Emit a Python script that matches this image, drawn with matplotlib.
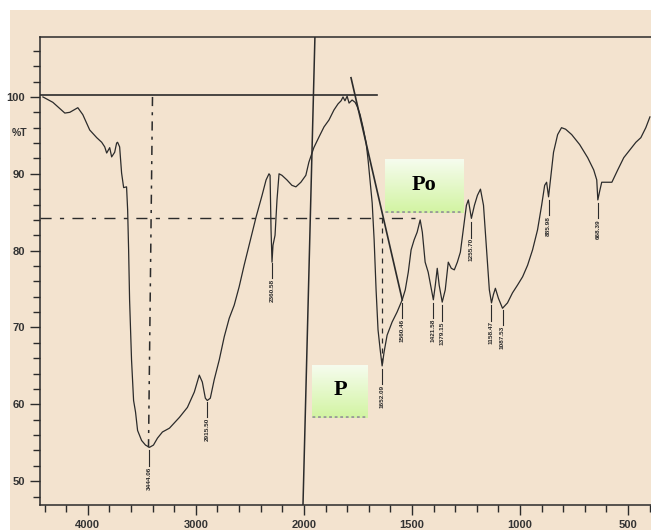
import numpy as np
import matplotlib
matplotlib.use('Agg')
import matplotlib.pyplot as plt
from matplotlib.patches import Rectangle
from matplotlib.ticker import FixedLocator, NullFormatter
import matplotlib.transforms as mtransforms

# spectrum (wavenumber cm-1, %T)
wn = [4415, 4350, 4323, 4212, 4166, 4092, 4046, 3982, 3917, 3871, 3843, 3825,
      3797, 3779, 3751, 3733, 3724, 3705, 3687, 3668, 3641, 3631, 3622, 3613,
      3595, 3576, 3558, 3539, 3502, 3466, 3429, 3392, 3355, 3309, 3244, 3152,
      3078, 3014, 2968, 2940, 2912, 2894, 2866, 2830, 2783, 2737, 2691, 2645,
      2599, 2553, 2507, 2442, 2387, 2350, 2323, 2313, 2304, 2295, 2286, 2267,
      2249, 2230, 2203, 2157, 2111, 2074, 2028, 1991, 1977, 1954, 1930, 1907,
      1884, 1861, 1842, 1828, 1819, 1810, 1800, 1791, 1777, 1763, 1754, 1740,
      1726, 1712, 1703, 1694, 1684, 1675, 1666, 1657, 1647, 1638, 1629, 1615,
      1592, 1569, 1545, 1531, 1517, 1504, 1490, 1476, 1462, 1452, 1439, 1425,
      1411, 1401, 1392, 1383, 1374, 1360, 1346, 1332, 1318, 1304, 1290, 1276,
      1262, 1248, 1239, 1225, 1211, 1197, 1183, 1169, 1156, 1142, 1132, 1123,
      1114, 1100, 1081, 1058, 1035, 1012, 988, 965, 942, 919, 900, 886, 877,
      868, 858, 845, 826, 808, 789, 761, 724, 687, 659, 645, 640, 631, 622,
      575, 548, 520, 492, 464, 441, 418, 399]
trans = [100.0, 99.5, 99.3, 97.9, 98.0, 98.6, 97.7, 95.7, 94.7, 94.1, 93.5, 92.7,
         93.4, 92.2, 92.8, 94.0, 94.1, 93.5, 90.1, 88.2, 88.3, 85.3, 80.1, 73.6,
         65.8, 60.5, 59.0, 56.6, 55.3, 54.7, 54.4, 54.7, 55.6, 56.4, 56.9, 58.3,
         59.6, 61.6, 63.8, 62.9, 60.8, 60.5, 60.8, 63.2, 65.8, 68.8, 71.2, 72.9,
         75.3, 78.1, 80.7, 84.4, 87.2, 89.2, 90.0, 89.8, 82.7, 78.5, 80.7, 82.0,
         86.6, 90.0, 89.8, 89.2, 88.5, 88.3, 88.9, 89.8, 91.5, 93.4, 94.8, 96.1,
         97.0, 98.3, 99.1, 99.5, 100.0, 99.5, 100.1, 99.2, 99.6, 99.3, 98.8, 97.7,
         96.0, 94.0, 91.8, 89.2, 86.2, 81.4, 74.9, 69.7, 67.1, 65.0, 66.8, 69.0,
         70.7, 72.0, 73.6, 74.9, 77.2, 80.1, 81.4, 82.4, 84.0, 82.4, 78.5, 77.2,
         75.1, 73.6, 75.5, 77.7, 75.5, 73.3, 74.9, 78.5, 77.7, 77.5, 78.5, 79.8,
         82.9, 85.9, 86.6, 84.2, 85.9, 87.2, 88.0, 85.9, 80.7, 74.9, 73.2, 74.3,
         75.1, 73.8, 72.5, 73.2, 74.5, 75.5, 76.6, 78.1, 80.1, 82.7, 85.9, 88.5, 88.9,
         87.0, 89.5, 92.8, 95.1, 96.0, 95.8, 95.1, 93.8, 92.1, 90.5, 89.2, 86.6, 87.8, 88.9,
         88.9, 90.5, 92.1, 93.1, 94.1, 94.7, 96.0, 97.4]

# peak labels printed under the dips
peak_text = ['3444.06', '2915.50', '2360.58', '1652.09', '1560.46', '1421.58',
             '1379.15', '1255.70', '1158.47', '1087.53', '885.98', '668.39']
peak_wn = [3429, 2894, 2295, 1638, 1545, 1401, 1360, 1225, 1132, 1081, 868, 640]
peak_top = [54.0, 60.3, 78.4, 64.6, 73.2, 73.2, 72.9, 83.7, 72.9, 72.3, 86.6, 86.2]

# hand drawn construction lines
base_wn = [4442, 1661]
base_T = [100.2, 100.2]
tangent_wn = [1782, 1545]
tangent_T = [102.5, 73.6]
vert_wn = [1949, 2009]
vert_T = [107.8, 46.6]
drop_wn = [3401, 3438]
drop_T = [100.0, 54.4]
half_wn = [4442, 1457]
half_T = [84.2, 84.2]
po_wn = [1640, 1640]
po_T = [84.2, 65.0]

beige = '#f3e3cf'
ink = '#2b2b2b'


def fwd(w):
    w = np.asarray(w, dtype=float)
    return np.where(w > 2000, 2000 + (w - 2000) / 2.0, w)


def inv(p):
    p = np.asarray(p, dtype=float)
    return np.where(p > 2000, 2000 + (p - 2000) * 2.0, p)


plt.rcParams['font.family'] = ['Liberation Sans', 'DejaVu Sans']

W, H = 651, 530
fig = plt.figure(figsize=(W / 100, H / 100), dpi=100, facecolor='white')
fig.patches.append(Rectangle((10 / W, 0), 1, 1 - 10 / H, transform=fig.transFigure,
                             facecolor=beige, edgecolor='none', zorder=-10))

ax = fig.add_axes([40 / W, 25 / H, 611 / W, 468 / H])
ax.set_facecolor('none')
ax.set_xscale('function', functions=(fwd, inv))
ax.set_xlim(4442, 394)
ax.set_ylim(46.9, 107.8)

ax.plot(wn, trans, color=ink, lw=0.9)

ax.plot(base_wn, base_T, color=ink, lw=1.2)
ax.plot(tangent_wn, tangent_T, color=ink, lw=1.2)
ax.plot(vert_wn, vert_T, color=ink, lw=1.1)
ax.plot(drop_wn, drop_T, color=ink, lw=1.1, dashes=(6, 4, 2, 4))
ax.plot(half_wn, half_T, color=ink, lw=1.0, dashes=(8, 6, 3, 6))
ax.plot(po_wn, po_T, color=ink, lw=0.9, dashes=(4, 4))

for txt, w, t in zip(peak_text, peak_wn, peak_top):
    ax.plot([w, w], [t, t - 2.0], color=ink, lw=0.8)
    ax.text(w, t - 2.1, txt, rotation=90, ha='center', va='top',
            fontsize=4.6, color=ink, fontweight='bold')

for s in ['right']:
    ax.spines[s].set_visible(False)
for s in ['left', 'bottom', 'top']:
    ax.spines[s].set_color(ink)
    ax.spines[s].set_linewidth(1.1)

ax.xaxis.set_major_locator(FixedLocator([4000, 3000, 2000, 1500, 1000, 500]))
ax.set_xticklabels(['4000', '3000', '2000', '1500', '1000', '500'])
ax.xaxis.set_minor_locator(FixedLocator(
    [4400, 4200, 3800, 3600, 3400, 3200, 2800, 2600, 2400, 2200,
     1900, 1800, 1700, 1600, 1400, 1300, 1200, 1100, 900, 800, 700, 600, 400]))
ax.xaxis.set_minor_formatter(NullFormatter())

ax.yaxis.set_major_locator(FixedLocator([50, 60, 70, 80, 90, 100]))
ax.yaxis.set_minor_locator(FixedLocator(np.arange(48, 108, 2)))

ax.tick_params(which='both', direction='out', color=ink, width=1.0,
               labelsize=8, labelcolor='#333333')
ax.tick_params(which='major', length=7, pad=4)
ax.tick_params(which='minor', length=5)
for lab in ax.get_xticklabels() + ax.get_yticklabels():
    lab.set_fontweight('bold')

tr = mtransforms.blended_transform_factory(ax.transAxes, ax.transData)
ax.text(-0.047, 95.3, '%T', transform=tr, fontsize=7.5, fontweight='bold',
        color='#333333', ha='left', va='center')

# green label boxes
grad = np.linspace(0, 1, 64).reshape(-1, 1)
from matplotlib.colors import LinearSegmentedColormap
gcmap = LinearSegmentedColormap.from_list('g', ['#f6fcee', '#d2f4a2'])
for name, (x0, y0, x1, y1), ty in [('Po', (385, 159, 463, 213), 0.52),
                                   ('P', (312, 365, 368, 418), 0.52)]:
    bx = fig.add_axes([x0 / W, 1 - y1 / H, (x1 - x0) / W, (y1 - y0) / H])
    bx.imshow(grad, aspect='auto', cmap=gcmap, extent=(0, 1, 0, 1))
    bx.set_xticks([])
    bx.set_yticks([])
    for s in bx.spines.values():
        s.set_visible(False)
    bx.axhline(0.01, color='#9a9a9a', lw=2, ls=(0, (1, 1)))
    bx.text(0.5, ty, name, transform=bx.transAxes, ha='center', va='center',
            fontsize=16, fontweight='bold', family='Liberation Serif', color='black')

fig.savefig('out.png', dpi=100, facecolor=fig.get_facecolor())
